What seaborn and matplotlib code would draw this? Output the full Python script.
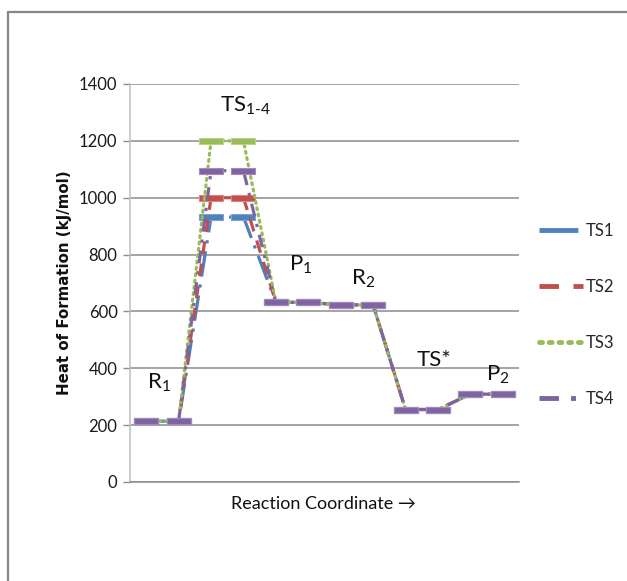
import numpy as np
import pandas as pd
import matplotlib
matplotlib.use("Agg")
import matplotlib.pyplot as plt
from matplotlib.lines import Line2D
import seaborn as sns

# ---- data ----
steps = ["R1", "R1", "TS", "TS", "P1", "P1", "R2", "R2", "TS*", "TS*", "P2", "P2"]
ts1 = [214, 214, 932, 932, 632, 632, 623, 623, 255, 255, 309, 309]
ts2 = [214, 214, 1000, 1000, 632, 632, 623, 623, 255, 255, 309, 309]
ts3 = [214, 214, 1200, 1200, 632, 632, 623, 623, 255, 255, 309, 309]
ts4 = [214, 214, 1095, 1095, 632, 632, 623, 623, 255, 255, 309, 309]
series_names = ["TS1", "TS2", "TS3", "TS4"]
yticks = [0, 200, 400, 600, 800, 1000, 1200, 1400]
annotations = [r"$\mathregular{R_1}$", r"$\mathregular{TS_{1\text{-}4}}$", r"$\mathregular{P_1}$",
               r"$\mathregular{R_2}$", "TS*", r"$\mathregular{P_2}$"]
ann_x = [0.39, 3.05, 4.77, 6.69, 8.88, 10.85]
ann_y = [348, 1323, 763, 714, 429, 376]

sns.set_theme(style="white")
plt.rcParams['font.family'] = ['Lato', 'DejaVu Sans']
plt.rcParams['mathtext.fontset'] = 'custom'
plt.rcParams['mathtext.rm'] = 'Lato'

colors = ["#4F81BD", "#C0504D", "#9BBB59", "#8064A2"]
edge = ["#7DA2D6", "#D98683", "#B9D38A", "#A08BC0"]
dashes = [(0, (8, 2.5, 1, 2.5)), (0, (4, 3)), (0, (0.6, 1.4)), (0, (4, 2.5, 1, 2.5))]
bar = [(-4, -1), (4, -1), (4, 1), (-4, 1), (-4, -1)]

fig = plt.figure(figsize=(6.27, 5.81), dpi=100)
ax = fig.add_axes([130/627, 1-482/581, 389/627, 398/581])

x = np.arange(len(steps))
for name, vals, c, ec, ls in zip(series_names, [ts1, ts2, ts3, ts4], colors, edge, dashes):
    sns.lineplot(x=x, y=vals, ax=ax, color=c, linestyle=ls, lw=2.3,
                 marker=bar, markersize=17.5, markerfacecolor=c, markeredgecolor=ec,
                 markeredgewidth=0.8, label=name,
                 dash_capstyle="round" if name == "TS3" else "butt")

ax.set_xlim(-0.5, len(steps) - 0.5)
ax.set_ylim(0, 1400)
ax.set_yticks(yticks)
ax.set_xticks([])
ax.yaxis.grid(True, color="#8C8C8C", lw=1.1)
ax.set_axisbelow(True)
for s in ["top", "right"]:
    ax.spines[s].set_visible(False)
ax.spines["left"].set_color("#BFBFBF")
ax.spines["bottom"].set_color("#8C8C8C")
ax.spines["left"].set_linewidth(1.1)
ax.spines["bottom"].set_linewidth(1.1)
ax.tick_params(axis="y", which="both", left=True, length=5, width=1, color="#8C8C8C",
               labelsize=12, pad=4, labelcolor="#1a1a1a")

ax.set_ylabel("Heat of Formation (kJ/mol)", family="DejaVu Sans", fontweight="bold",
              fontsize=10.8, color="#111111")
ax.yaxis.set_label_coords(-0.149, 0.5)
ax.set_xlabel("Reaction Coordinate →", fontsize=13, color="#111111")
ax.xaxis.set_label_coords(0.496, -0.035)

for t, xx, yy in zip(annotations, ann_x, ann_y):
    ax.text(xx, yy, t, ha="center", va="center", fontsize=16, color="#111111")

handles = []
for name, c, ls in zip(series_names, colors, dashes):
    handles.append(Line2D([], [], color=c, linestyle=ls, lw=3.5,
                          dash_capstyle="round" if name == "TS3" else "butt"))
leg = ax.legend(handles, series_names, loc="center left", bbox_to_anchor=(1.052, 0.42),
                frameon=False, fontsize=12, handlelength=2.6, labelspacing=2.4,
                handletextpad=0.2, borderpad=0, borderaxespad=0)

# outer frame (Excel chart area border)
fig.add_artist(Line2D([8/627, 1], [1-12/581, 1-12/581], color="#868686", lw=1.6,
                      transform=fig.transFigure))
fig.add_artist(Line2D([8/627, 8/627], [0, 1-12/581], color="#868686", lw=1.6,
                      transform=fig.transFigure))

fig.savefig("out.png", dpi=100)
